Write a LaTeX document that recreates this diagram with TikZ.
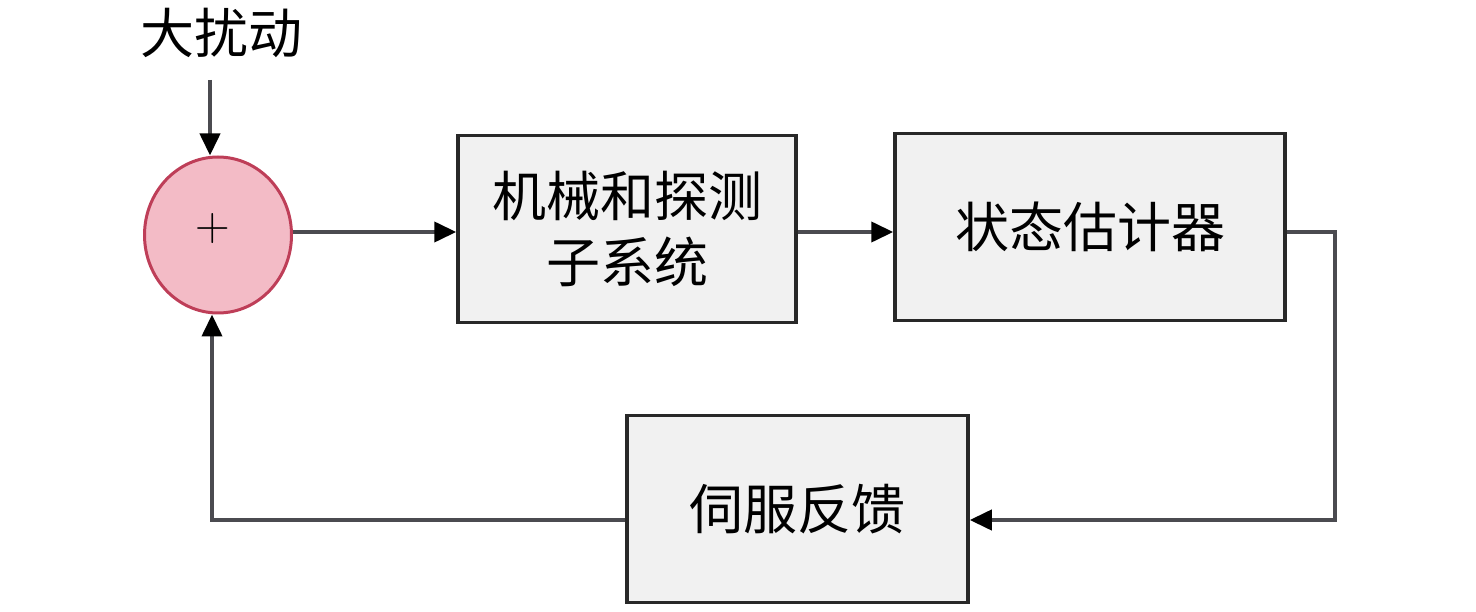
\documentclass[tikz,border=0pt]{standalone}
\usepackage{fontspec}
\newfontfamily\cjk{Noto Sans CJK SC}
\usetikzlibrary{arrows.meta,calc,shapes.geometric}
\definecolor{sumfill}{RGB}{243,187,198}
\definecolor{sumline}{RGB}{190,62,88}
\definecolor{boxfill}{RGB}{241,241,241}
\definecolor{boxline}{RGB}{40,40,40}
\definecolor{wire}{RGB}{75,75,80}
\tikzset{
  blk/.style={draw=boxline, line width=3.5pt, fill=boxfill, inner sep=0pt, font=\cjk\fontsize{54}{66}\selectfont, align=center},
  wirearrow/.style={draw=wire, line width=4pt, -{Triangle[length=22pt,width=20pt,fill=black,color=black]}},
}
\begin{document}
\begin{tikzpicture}[x=1pt,y=-1pt]
\useasboundingbox (0,0) rectangle (1476,612);
\node[font=\cjk\fontsize{54}{60}\selectfont, inner sep=0pt] (dist) at (221,33) {大扰动};
\node[ellipse, draw=sumline, line width=3pt, fill=sumfill, minimum width=147pt, minimum height=156pt, inner sep=0pt] (sum) at (218,235) {};
\node[font=\fontsize{48}{48}\selectfont, inner sep=0pt] (plus) at (213,229) {+};
\node[blk, minimum width=338pt, minimum height=187pt] (mech) at (627,229) {机械和探测\\子系统};
\node[blk, minimum width=390pt, minimum height=187pt] (est) at (1090,227) {状态估计器};
\node[blk, minimum width=341pt, minimum height=187pt] (servo) at (797.5,509) {伺服反馈};
\coordinate (dtop) at (210,80);
\draw[wirearrow] (dtop) -- (dtop |- sum.north);
\draw[wirearrow] (sum.east |- 0,232) -- (mech.west |- 0,232);
\draw[wirearrow] (mech.east |- 0,232) -- (est.west |- 0,232);
\coordinate (r1) at (1335,232);
\coordinate (r2) at (1335,520);
\draw[wirearrow] (est.east |- r1) -- (r1) -- (r2) -- (servo.east |- r2);
\coordinate (l1) at (212,520);
\draw[wirearrow] (servo.west |- l1) -- (l1) -- (l1 |- sum.south);
\end{tikzpicture}
\end{document}
